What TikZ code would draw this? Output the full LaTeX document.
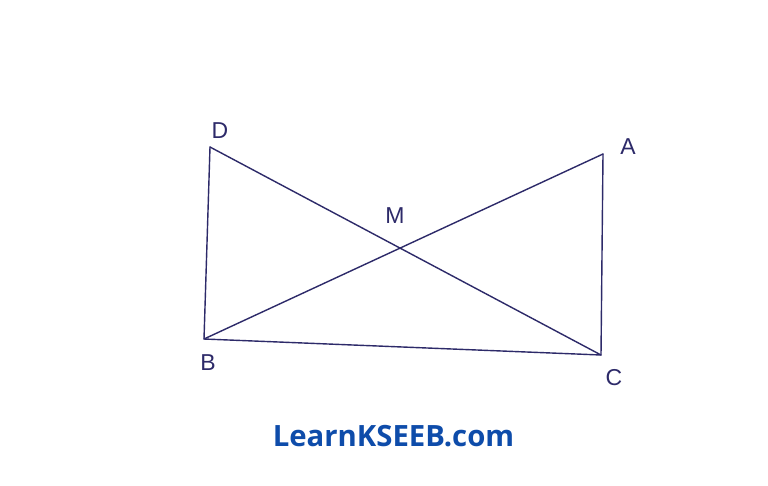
\documentclass[tikz,border=0pt]{standalone}
\usepackage{fontspec}
\setmainfont{Liberation Sans}
\newfontfamily\wmfont{Open Sans}
\definecolor{ink}{RGB}{45,42,105}
\definecolor{wm}{RGB}{14,76,170}
\tikzset{
  seg/.style={draw=ink, line width=1.4pt, line cap=round, line join=round},
  lbl/.style={text=ink, font=\fontsize{23}{23}\selectfont, inner sep=0pt},
}
\begin{document}
\begin{tikzpicture}[x=1pt,y=-1pt]
\useasboundingbox (0,0) rectangle (768,485);
\fill[white] (0,0) rectangle (768,485);
\coordinate (D) at (210,147);
\coordinate (A) at (603,154);
\coordinate (B) at (204,339);
\coordinate (C) at (601,355);
\coordinate (M) at (401,248);
\draw[seg] (D) -- (B) -- (C) -- (A);
\draw[seg] (D) -- (C);
\draw[seg] (B) -- (A);
\node[lbl] (lD) at (220,131) {D};
\node[lbl] (lA) at (628,147) {A};
\node[lbl] (lM) at (395,216) {M};
\node[lbl] (lB) at (208,363) {B};
\node[lbl] (lC) at (614,378) {C};
\node[text=wm, font=\wmfont\bfseries\fontsize{29.3}{29.3}\selectfont, inner sep=0pt] (wmk) at (393.5,436) {LearnKSEEB.com};
\end{tikzpicture}
\end{document}
